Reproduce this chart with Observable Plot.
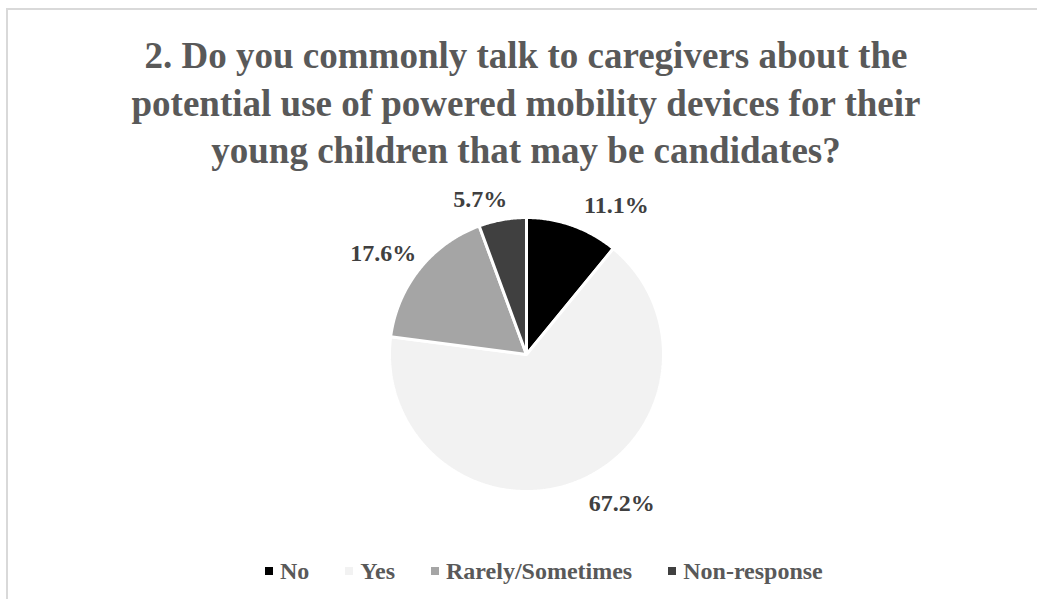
<!DOCTYPE html>
<html>
<head>
<meta charset="utf-8">
<script src="https://cdn.jsdelivr.net/npm/d3@7"></script>
<script src="https://cdn.jsdelivr.net/npm/@observablehq/plot@0.6"></script>
<style>
  html, body { margin: 0; padding: 0; background: #fff; }
  #wrap { position: relative; width: 1037px; height: 599px; overflow: hidden; font-family: "Liberation Serif", "Times New Roman", serif; }
  #frame { position: absolute; left: 6px; top: 8px; width: 1200px; height: 800px; border: 2px solid #d9d9d9; box-sizing: border-box; }
  #title { position: absolute; left: 0; top: 32px; width: 1052px; text-align: center; font-size: 37px; font-weight: bold; line-height: 47.5px; color: #595959; }
  #chart { position: absolute; left: 0; top: 180px; }
  #legend { position: absolute; left: 265px; top: 556px; display: flex; align-items: center; font-size: 24px; font-weight: bold; color: #595959; line-height: 30px; white-space: nowrap; }
  #legend .item { display: flex; align-items: center; margin-right: 36px; }
  #legend .sw { width: 8px; height: 8px; margin-right: 7px; }
</style>
</head>
<body>
<div id="wrap">
  <div id="frame"></div>
  <div id="title">2. Do you commonly talk to caregivers about the<br>potential use of powered mobility devices for their<br>young children that may be candidates?</div>
  <div id="chart"></div>
  <div id="legend"></div>
</div>
<script>
// ---- data ----
const categories = ["No", "Yes", "Rarely/Sometimes", "Non-response"];
const percents = [11.1, 67.2, 17.6, 5.7];
const valueLabels = ["11.1%", "67.2%", "17.6%", "5.7%"];
const sliceColors = ["#000000", "#f2f2f2", "#a5a5a5", "#404040"];

// ---- layout ----
const W = 1037, H = 360;
const R = 137;           // pie radius in px
const CX = 526, CY = 174; // pie centre in svg px

const rows = categories.map((c, i) => ({key: c, value: percents[i], label: valueLabels[i]}));
const arcs = d3.pie().sort(null).value(d => d.value).startAngle(0).endAngle(2 * Math.PI)(rows);

// slice outlines in unit-circle coordinates (angle measured clockwise from 12 o'clock)
const pts = [];
for (const a of arcs) {
  pts.push({key: a.data.key, x: 0, y: 0});
  const n = Math.max(2, Math.ceil((a.endAngle - a.startAngle) / (Math.PI / 360)));
  for (let i = 0; i <= n; i++) {
    const t = a.startAngle + (a.endAngle - a.startAngle) * i / n;
    pts.push({key: a.data.key, x: Math.sin(t), y: Math.cos(t)});
  }
}

// label anchors just outside each slice at its mid angle
const lr = 150 / R;
const labs = arcs.map(a => {
  const m = (a.startAngle + a.endAngle) / 2;
  const s = Math.sin(m), c = Math.cos(m);
  return {x: s * lr, y: c * lr, text: a.data.label, ta: s >= 0 ? "start" : "end", la: c >= 0 ? "bottom" : "top"};
});
const combos = [...new Set(labs.map(d => d.ta + "|" + d.la))];
const textMarks = combos.map(k => {
  const [ta, la] = k.split("|");
  return Plot.text(labs.filter(d => d.ta === ta && d.la === la), {
    x: "x", y: "y", text: "text", textAnchor: ta, lineAnchor: la, dx: 7,
    fontSize: 24, fontWeight: "bold", fill: "#404040",
    fontFamily: "Liberation Serif, Times New Roman, serif"
  });
});

const plot = Plot.plot({
  width: W, height: H,
  margin: 0,
  x: {domain: [-CX / R, (W - CX) / R], range: [0, W], axis: null},
  y: {domain: [(CY - H) / R, CY / R], range: [H, 0], axis: null},
  color: {domain: categories, range: sliceColors},
  style: {background: "transparent", overflow: "visible"},
  marks: [
    Plot.line(pts, {x: "x", y: "y", z: "key", fill: "key", stroke: "white", strokeWidth: 3, strokeLinejoin: "miter", curve: "linear-closed"}),
    ...textMarks
  ]
});
document.getElementById("chart").appendChild(plot);

// legend from the same colour scale
const color = plot.scale("color");
const leg = document.getElementById("legend");
color.domain.forEach((c, i) => {
  const item = document.createElement("div");
  item.className = "item";
  const sw = document.createElement("div");
  sw.className = "sw";
  sw.style.background = color.range[i];
  const tx = document.createElement("span");
  tx.textContent = c;
  item.appendChild(sw); item.appendChild(tx);
  leg.appendChild(item);
});
</script>
</body>
</html>
